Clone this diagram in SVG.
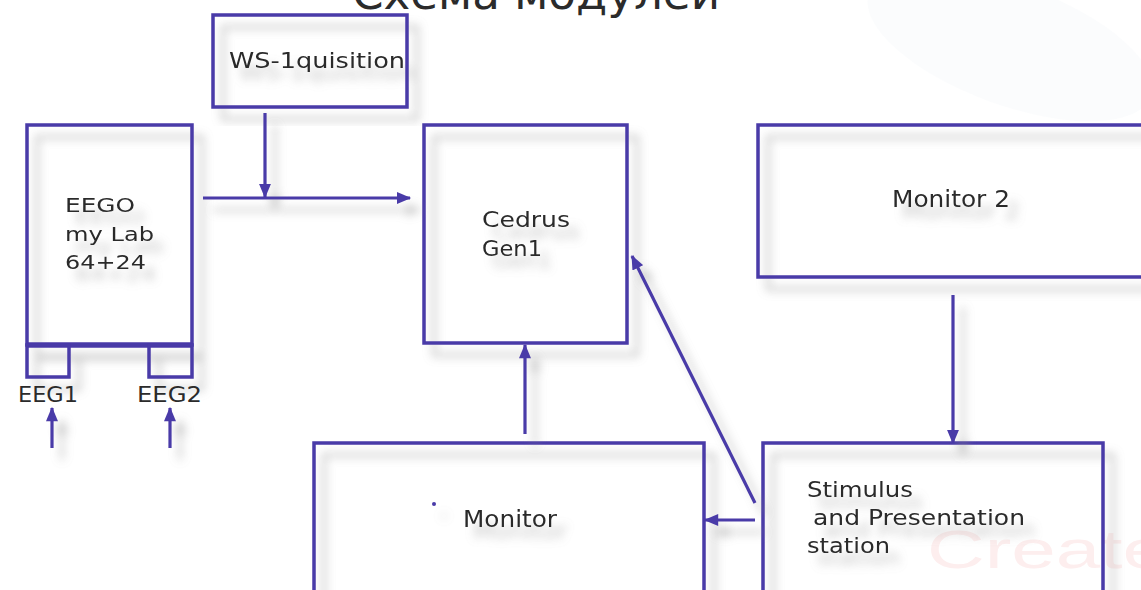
<svg xmlns="http://www.w3.org/2000/svg" width="1141" height="590" viewBox="0 0 1141 590">
  <defs>
    <filter id="sh" x="-20%" y="-20%" width="140%" height="140%">
      <feGaussianBlur in="SourceAlpha" stdDeviation="5" result="b"/>
      <feOffset in="b" dx="10" dy="12" result="o"/>
      <feFlood flood-color="#8a8a8a" flood-opacity="0.5"/>
      <feComposite in2="o" operator="in" result="s"/>
      <feMerge><feMergeNode in="s"/><feMergeNode in="SourceGraphic"/></feMerge>
    </filter>
    <marker id="ah" viewBox="0 0 12 10" refX="11" refY="5" markerWidth="15" markerHeight="12" markerUnits="userSpaceOnUse" orient="auto">
      <path d="M0,0 L12,5 L0,10 Z" fill="#4a3aa8"/>
    </marker>
  </defs>
  <style>
    .box { fill: none; stroke: #4a3aa8; stroke-width: 3.5; }
    .ln { fill: none; stroke: #4a3aa8; stroke-width: 3.2; marker-end: url(#ah); }
    .t { font-family: "DejaVu Sans", "Liberation Sans", sans-serif; fill: #2b2b2b; }
  </style>
  <rect width="1141" height="590" fill="#ffffff"/>
  <ellipse cx="1010" cy="45" rx="150" ry="60" fill="#f4f5fa" opacity="0.35" transform="rotate(20 1010 45)"/>
  <text x="927" y="568" font-family="'Liberation Sans', Arial, sans-serif" font-size="54" fill="#fdeeee" textLength="240" lengthAdjust="spacingAndGlyphs">Create</text>

  <text class="t" x="352" y="9" font-size="44" textLength="368" lengthAdjust="spacingAndGlyphs" fill="#111">Схема модулей</text>

  <g id="ws" filter="url(#sh)">
    <rect class="box" x="213" y="15" width="194" height="92"/>
    <text class="t" x="229" y="68" font-size="22" textLength="176" lengthAdjust="spacingAndGlyphs">WS-1quisition</text>
  </g>

  <g id="eego" filter="url(#sh)">
    <rect class="box" x="27" y="125" width="165" height="220"/>
    <line x1="27" y1="345" x2="192" y2="345" stroke="#4a3aa8" stroke-width="5.5"/>
    <rect class="box" x="27" y="345" width="42" height="32"/>
    <rect class="box" x="149" y="345" width="43" height="32"/>
    <text class="t" x="65" y="212" font-size="20" textLength="70" lengthAdjust="spacingAndGlyphs">EEGO</text>
    <text class="t" x="65" y="241" font-size="20" textLength="89" lengthAdjust="spacingAndGlyphs">my Lab</text>
    <text class="t" x="65" y="269" font-size="20" textLength="81" lengthAdjust="spacingAndGlyphs">64+24</text>
  </g>
  <g id="eeg1">
    <text class="t" x="18" y="402" font-size="20.5" textLength="60" lengthAdjust="spacingAndGlyphs">EEG1</text>
  </g>
  <g id="eeg2">
    <text class="t" x="137" y="402" font-size="20.5" textLength="65" lengthAdjust="spacingAndGlyphs">EEG2</text>
  </g>

  <g id="cedrus" filter="url(#sh)">
    <rect class="box" x="424" y="125" width="203" height="218"/>
    <text class="t" x="482" y="227" font-size="21" textLength="88" lengthAdjust="spacingAndGlyphs">Cedrus</text>
    <text class="t" x="482" y="256" font-size="21" textLength="60" lengthAdjust="spacingAndGlyphs">Gen1</text>
  </g>

  <g id="monitor2" filter="url(#sh)">
    <rect class="box" x="758" y="125" width="420" height="152"/>
    <text class="t" x="892" y="207" font-size="23.5" textLength="118" lengthAdjust="spacingAndGlyphs">Monitor 2</text>
  </g>

  <g id="monitor" filter="url(#sh)">
    <rect class="box" x="314" y="443" width="390" height="180"/>
    <circle cx="434" cy="504" r="2" fill="#4a3aa8"/>
    <text class="t" x="463" y="527" font-size="23.5" textLength="94" lengthAdjust="spacingAndGlyphs">Monitor</text>
  </g>

  <g id="stimulus" filter="url(#sh)">
    <rect class="box" x="763" y="443" width="340" height="180"/>
    <text class="t" x="807" y="497" font-size="22" textLength="106" lengthAdjust="spacingAndGlyphs">Stimulus</text>
    <text class="t" x="813" y="525" font-size="22" textLength="212" lengthAdjust="spacingAndGlyphs">and Presentation</text>
    <text class="t" x="807" y="553" font-size="22" textLength="83" lengthAdjust="spacingAndGlyphs">station</text>
  </g>

  <g id="connectors" filter="url(#sh)">
    <line class="ln" x1="203" y1="198" x2="410" y2="198"/>
    <line class="ln" x1="265" y1="113" x2="265" y2="197"/>
    <line class="ln" x1="52" y1="448" x2="52" y2="408"/>
    <line class="ln" x1="170" y1="448" x2="170" y2="408"/>
    <line class="ln" x1="525" y1="434" x2="525" y2="345"/>
    <line class="ln" x1="755" y1="503" x2="632" y2="256"/>
    <line class="ln" x1="755" y1="520" x2="705" y2="520"/>
    <line class="ln" x1="953" y1="295" x2="953" y2="443"/>
  </g>
</svg>
